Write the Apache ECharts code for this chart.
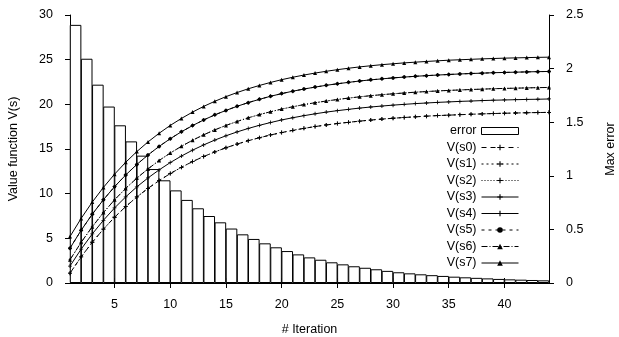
<!DOCTYPE html>
<html>
<head>
<meta charset="utf-8">
<script src="https://cdn.jsdelivr.net/npm/echarts@6/dist/echarts.min.js"></script>
<style>
  html, body { margin: 0; padding: 0; background: #fff; }
  #chart { width: 619px; height: 337px; }
</style>
</head>
<body>
<div id="chart"></div>
<script>
// iteration numbers for the value curves
const iterations = [1,2,3,4,5,6,7,8,9,10,11,12,13,14,15,16,17,18,19,20,21,22,23,24,25,26,27,28,29,30,31,32,33,34,35,36,37,38,39,40,41,42,43,44];
const xTicks = [5, 10, 15, 20, 25, 30, 35, 40];

// max error per iteration (right axis), bar k spans iteration k..k+1
const maxError = [2.408, 2.092, 1.850, 1.646, 1.471, 1.321, 1.188, 1.063, 0.958, 0.864,
  0.775, 0.697, 0.625, 0.566, 0.508, 0.454, 0.411, 0.370, 0.333, 0.298,
  0.267, 0.239, 0.217, 0.193, 0.174, 0.156, 0.142, 0.128, 0.113, 0.100,
  0.090, 0.081, 0.073, 0.066, 0.059, 0.053, 0.048, 0.043, 0.038, 0.034,
  0.031, 0.028, 0.025];

// value function curves (left axis)
const vS0 = [1.10, 2.92, 4.56, 6.03, 7.36, 8.55, 9.63, 10.59, 11.46, 12.25,
  12.95, 13.59, 14.16, 14.67, 15.14, 15.55, 15.93, 16.26, 16.57, 16.84,
  17.09, 17.31, 17.51, 17.69, 17.85, 17.99, 18.12, 18.24, 18.35, 18.44,
  18.53, 18.60, 18.68, 18.74, 18.79, 18.84, 18.89, 18.93, 18.97, 19.00,
  19.03, 19.06, 19.08, 19.10];
const vS1 = vS0.slice(); // drawn on top of V(s0) in the picture
const vS3 = [1.90, 3.79, 5.49, 7.02, 8.40, 9.64, 10.76, 11.76, 12.66, 13.48,
  14.21, 14.87, 15.46, 16.00, 16.48, 16.91, 17.30, 17.65, 17.96, 18.25,
  18.50, 18.73, 18.94, 19.13, 19.29, 19.44, 19.58, 19.70, 19.81, 19.91,
  20.00, 20.08, 20.15, 20.22, 20.27, 20.33, 20.37, 20.42, 20.46, 20.49,
  20.52, 20.55, 20.57, 20.60];
const vS6 = [2.60, 4.55, 6.30, 7.88, 9.31, 10.59, 11.74, 12.77, 13.71, 14.55,
  15.30, 15.98, 16.59, 17.14, 17.64, 18.08, 18.49, 18.85, 19.17, 19.47,
  19.73, 19.97, 20.18, 20.37, 20.54, 20.70, 20.84, 20.97, 21.08, 21.18,
  21.27, 21.36, 21.43, 21.50, 21.56, 21.61, 21.66, 21.70, 21.75, 21.78,
  21.81, 21.84, 21.87, 21.89];
const vS2 = vS6.slice(); // hidden under V(s6)
const vS4 = [3.90, 5.90, 7.70, 9.32, 10.78, 12.09, 13.27, 14.33, 15.29, 16.15,
  16.93, 17.62, 18.25, 18.82, 19.32, 19.78, 20.19, 20.56, 20.90, 21.20,
  21.47, 21.71, 21.93, 22.13, 22.30, 22.46, 22.61, 22.74, 22.85, 22.96,
  23.05, 23.14, 23.21, 23.28, 23.34, 23.40, 23.45, 23.49, 23.54, 23.57,
  23.60, 23.63, 23.66, 23.68];
const vS5 = vS4.slice(); // same curve as V(s4)
const vS7 = [5.20, 7.23, 9.06, 10.70, 12.18, 13.51, 14.71, 15.79, 16.76, 17.64,
  18.42, 19.13, 19.77, 20.34, 20.86, 21.32, 21.74, 22.11, 22.45, 22.76,
  23.03, 23.28, 23.50, 23.70, 23.88, 24.04, 24.19, 24.32, 24.44, 24.54,
  24.64, 24.72, 24.80, 24.87, 24.94, 24.99, 25.04, 25.09, 25.13, 25.17,
  25.20, 25.23, 25.26, 25.28];

const FONT = "'Liberation Sans', Arial, sans-serif";
const PLUS = 'path://M4,0 H6 V4 H10 V6 H6 V10 H4 V6 H0 V4 H4 Z';

// one entry per value series: data, dash pattern, point symbol
const lineDefs = [
  { name: 'V(s0)', data: vS0, dash: [5, 4], symbol: PLUS, size: 4 },
  { name: 'V(s1)', data: vS1, dash: [2, 3], symbol: PLUS, size: 4 },
  { name: 'V(s2)', data: vS2, dash: [1, 2], symbol: PLUS, size: 3 },
  { name: 'V(s3)', data: vS3, dash: 'solid', symbol: PLUS, size: 4 },
  { name: 'V(s4)', data: vS4, dash: 'solid', symbol: PLUS, size: 4 },
  { name: 'V(s5)', data: vS5, dash: [3, 4], symbol: 'circle', size: 3.5 },
  { name: 'V(s6)', data: vS6, dash: [6, 2, 1, 2], symbol: 'triangle', size: 4 },
  { name: 'V(s7)', data: vS7, dash: 'solid', symbol: 'triangle', size: 4 }
];

const lineSeries = lineDefs.map(d => ({
  name: d.name,
  type: 'line',
  yAxisIndex: 0,
  data: d.data.map((v, i) => [iterations[i], v]),
  symbol: d.symbol,
  symbolSize: d.size,
  showSymbol: true,
  lineStyle: { color: '#000', width: 1, type: d.dash },
  itemStyle: { color: '#000' },
  z: 3
}));

const chart = echarts.init(document.getElementById('chart'));

const axisText = { color: '#000', fontSize: 12.5, fontFamily: FONT };
const axisLineBlack = { show: true, lineStyle: { color: '#000', width: 1 } };

chart.setOption({
  animation: false,
  backgroundColor: '#fff',
  textStyle: { fontFamily: FONT },
  grid: { left: 70, right: 70, top: 15, bottom: 54, containLabel: false, outerBoundsMode: 'none' },
  legend: {
    orient: 'vertical',
    right: 100,
    top: 124,
    padding: 0,
    align: 'right',
    itemWidth: 37,
    itemHeight: 7,
    itemGap: 2.5,
    itemStyle: { borderWidth: 1 },
    lineStyle: { width: 1 },
    textStyle: { color: '#000', fontSize: 12.5, fontFamily: FONT, lineHeight: 14 },
    data: [{ name: 'error', icon: 'rect' }].concat(lineDefs.map(d => d.name))
  },
  xAxis: [
    {
      type: 'value',
      position: 'bottom',
      min: 1,
      max: 44,
      name: '# Iteration',
      nameLocation: 'middle',
      nameGap: 40,
      nameTextStyle: axisText,
      axisLine: axisLineBlack,
      axisTick: { show: true, length: 5, customValues: xTicks, lineStyle: { color: '#000' } },
      axisLabel: Object.assign({ margin: 15, customValues: xTicks }, axisText),
      splitLine: { show: false }
    },
    {
      type: 'value',
      position: 'top',
      min: 1,
      max: 44,
      axisLine: axisLineBlack,
      axisTick: { show: true, length: 5, customValues: xTicks, lineStyle: { color: '#000' } },
      axisLabel: { show: false },
      splitLine: { show: false }
    }
  ],
  yAxis: [
    {
      type: 'value',
      position: 'left',
      min: 0,
      max: 30,
      interval: 5,
      name: 'Value function V(s)',
      nameLocation: 'middle',
      nameGap: 50,
      nameTextStyle: axisText,
      axisLine: axisLineBlack,
      axisTick: { show: true, length: 5, lineStyle: { color: '#000' } },
      axisLabel: Object.assign({ margin: 17 }, axisText),
      splitLine: { show: false }
    },
    {
      type: 'value',
      position: 'right',
      min: 0,
      max: 2.5,
      interval: 0.5,
      name: 'Max error',
      nameLocation: 'middle',
      nameGap: 55,
      nameTextStyle: axisText,
      axisLine: axisLineBlack,
      axisTick: { show: true, length: 5, lineStyle: { color: '#000' } },
      axisLabel: Object.assign({ margin: 17 }, axisText),
      splitLine: { show: false }
    }
  ],
  series: [
    {
      name: 'error',
      type: 'bar',
      yAxisIndex: 1,
      data: maxError.map((v, i) => [iterations[i] + 0.5, v]),
      barWidth: 11.6,
      itemStyle: { color: '#fff', borderColor: '#000', borderWidth: 1 },
      z: 1
    }
  ].concat(lineSeries)
});
</script>
</body>
</html>
